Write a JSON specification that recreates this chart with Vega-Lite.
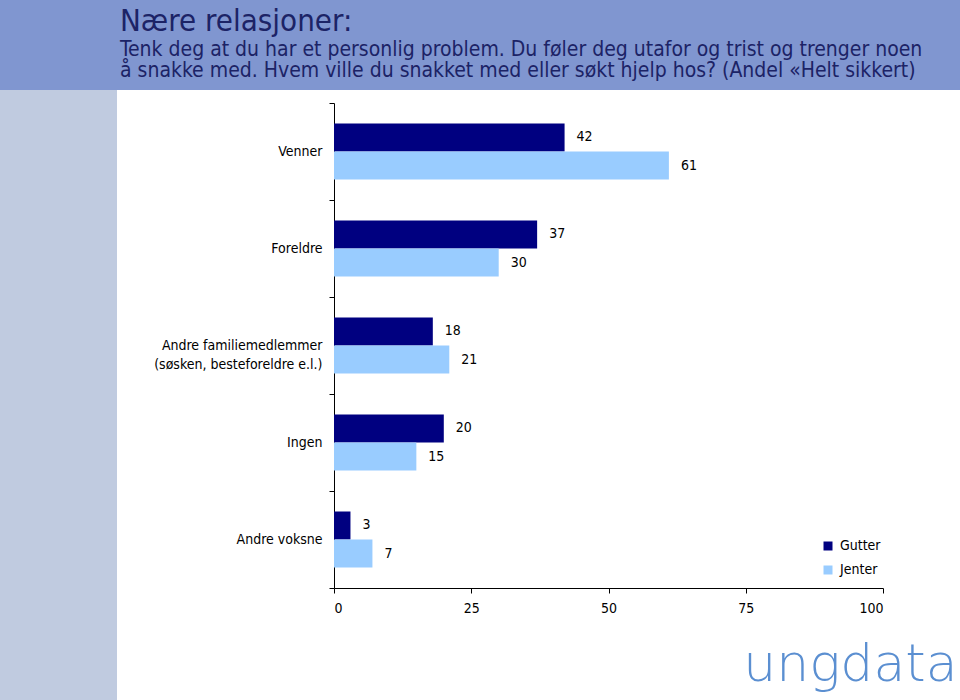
{
  "$schema": "https://vega.github.io/schema/vega-lite/v6.json",
  "background": "white",
  "padding": 0,
  "spacing": 0,
  "bounds": "flush",
  "config": {
    "view": {"stroke": null},
    "font": "DejaVu Sans Condensed, DejaVu Sans",
    "concat": {"spacing": 0}
  },
  "title": {
    "text": "Nære relasjoner:",
    "subtitle": [
      "Tenk deg at du har et personlig problem. Du føler deg utafor og trist og trenger noen",
      "å snakke med. Hvem ville du snakket med eller søkt hjelp hos? (Andel «Helt sikkert)"
    ],
    "anchor": "start",
    "frame": "group",
    "dx": 120,
    "offset": -82,
    "font": "DejaVu Sans Condensed, DejaVu Sans",
    "subtitleFont": "DejaVu Sans Condensed, DejaVu Sans",
    "fontSize": 31,
    "fontWeight": "normal",
    "subtitleFontSize": 21,
    "subtitleLineHeight": 21,
    "subtitlePadding": 1,
    "color": "#1c2366",
    "subtitleColor": "#1c2366"
  },
  "vconcat": [
    {
      "width": 960,
      "height": 90,
      "data": {"values": [{"t": ""}]},
      "mark": {"type": "rect", "color": "#8096d0"},
      "encoding": {}
    },
    {
      "bounds": "flush",
      "spacing": 217,
      "hconcat": [
        {
          "width": 117,
          "height": 610,
          "data": {"values": [{"t": ""}]},
          "mark": {"type": "rect", "color": "#c0cbe0"},
          "encoding": {}
        },
        {
          "width": 549,
          "height": 498,
          "data": {
            "values": [
              {"kategori": "Venner", "gruppe": "Gutter", "andel": 42},
              {"kategori": "Venner", "gruppe": "Jenter", "andel": 61},
              {"kategori": "Foreldre", "gruppe": "Gutter", "andel": 37},
              {"kategori": "Foreldre", "gruppe": "Jenter", "andel": 30},
              {"kategori": "Andre familiemedlemmer\n(søsken, besteforeldre e.l.)", "gruppe": "Gutter", "andel": 18},
              {"kategori": "Andre familiemedlemmer\n(søsken, besteforeldre e.l.)", "gruppe": "Jenter", "andel": 21},
              {"kategori": "Ingen", "gruppe": "Gutter", "andel": 20},
              {"kategori": "Ingen", "gruppe": "Jenter", "andel": 15},
              {"kategori": "Andre voksne", "gruppe": "Gutter", "andel": 3},
              {"kategori": "Andre voksne", "gruppe": "Jenter", "andel": 7}
            ]
          },
          "encoding": {
            "y": {
              "field": "kategori",
              "type": "nominal",
              "sort": null,
              "scale": {"paddingInner": 0, "paddingOuter": 0, "range": [13, 498]},
              "axis": {
                "title": null,
                "domainColor": "black",
                "tickColor": "black",
                "tickSize": 5,
                "tickBand": "extent",
                "labelPadding": 7,
                "labelFontSize": 14,
                "labelColor": "black",
                "labelLineHeight": 19,
                "labelExpr": "split(datum.label, '\\n')"
              }
            },
            "yOffset": {
              "field": "gruppe",
              "type": "nominal",
              "sort": ["Gutter", "Jenter"],
              "scale": {"paddingInner": 0, "paddingOuter": 0.732}
            },
            "x": {
              "field": "andel",
              "type": "quantitative",
              "scale": {"domain": [0, 100]},
              "axis": {
                "values": [0, 25, 50, 75, 100],
                "grid": false,
                "domainColor": "black",
                "tickColor": "black",
                "tickSize": 5,
                "labelPadding": 8,
                "labelFontSize": 14,
                "labelColor": "black",
                "title": "ungdata",
                "titleFont": "DejaVu Sans",
                "titleFontWeight": 200,
                "titleFontSize": 52,
                "titleColor": "#5b8fd1",
                "titleAlign": "right",
                "titleBaseline": "alphabetic",
                "titleX": 623,
                "titleY": 92
              }
            }
          },
          "layer": [
            {
              "mark": {"type": "bar"},
              "encoding": {
                "color": {
                  "field": "gruppe",
                  "type": "nominal",
                  "scale": {"domain": ["Gutter", "Jenter"], "range": ["#000080", "#99ccff"]},
                  "legend": {
                    "title": null,
                    "orient": "none",
                    "legendX": 821,
                    "legendY": 539,
                    "symbolType": "square",
                    "symbolSize": 81,
                    "labelFontSize": 14,
                    "labelColor": "black",
                    "rowPadding": 10,
                    "labelOffset": 5
                  }
                }
              }
            },
            {
              "mark": {"type": "text", "align": "left", "baseline": "middle", "dx": 12, "fontSize": 14, "color": "black"},
              "encoding": {"text": {"field": "andel", "type": "quantitative"}}
            }
          ]
        }
      ]
    }
  ]
}
